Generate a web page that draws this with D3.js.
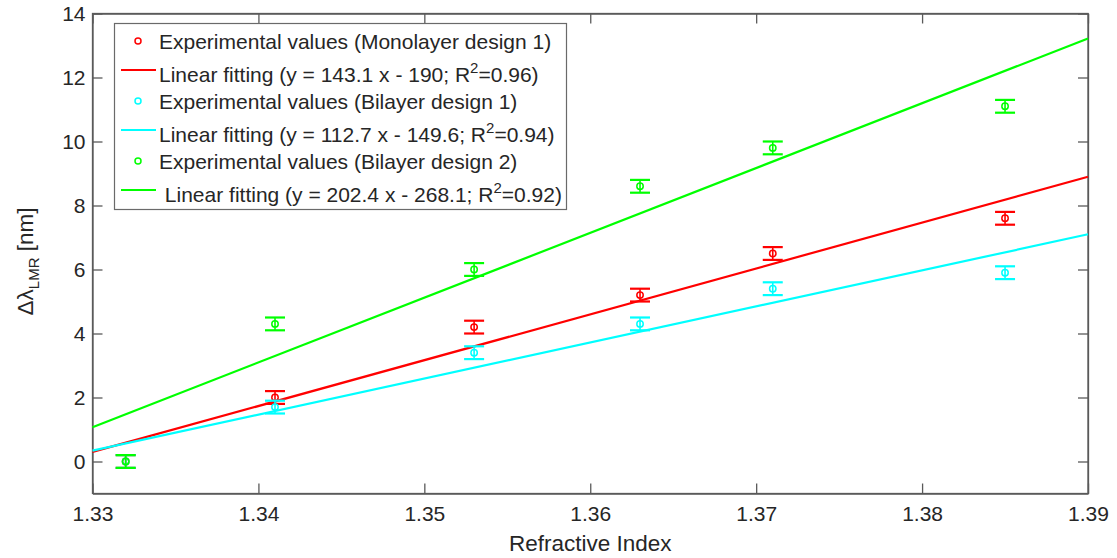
<!DOCTYPE html>
<html>
<head>
<meta charset="utf-8">
<script src="https://cdn.jsdelivr.net/npm/d3@7"></script>
<style>
  html, body { margin: 0; padding: 0; background: #fff; }
  svg { display: block; font-family: "Liberation Sans", Arial, sans-serif; }
  text { white-space: pre; }
</style>
</head>
<body>
<svg id="chart" width="1117" height="558"></svg>
<script>
// ---- Data ----
const refractiveIndex = [1.332, 1.341, 1.353, 1.363, 1.371, 1.385];
const monolayer1 = [0, 2.0, 4.2, 5.2, 6.5, 7.6];
const bilayer1 = [0, 1.7, 3.4, 4.3, 5.4, 5.9];
const bilayer2 = [0, 4.3, 6.0, 8.6, 9.8, 11.1];
const errMono1 = [0.2, 0.2, 0.2, 0.2, 0.2, 0.2];
const errBi1 = [0.2, 0.2, 0.2, 0.2, 0.2, 0.2];
const errBi2 = [0.2, 0.2, 0.2, 0.2, 0.2, 0.2];
const fitX = [1.33, 1.39];
const fitMono1 = [0.30, 8.90];
const fitBi1 = [0.34, 7.10];
const fitBi2 = [1.07, 13.22];
const xTicks = [1.33, 1.34, 1.35, 1.36, 1.37, 1.38, 1.39];
const yTicks = [0, 2, 4, 6, 8, 10, 12, 14];
const seriesNames = ["Monolayer design 1", "Bilayer design 1", "Bilayer design 2"];
const fitLabels = [
  ["Linear fitting (y = 143.1 x - 190; R", "2", "=0.96)"],
  ["Linear fitting (y = 112.7 x - 149.6; R", "2", "=0.94)"],
  ["\u00A0Linear fitting (y = 202.4 x - 268.1; R", "2", "=0.92)"]
];
const colors = ["#ff0000", "#00ffff", "#00ff00"];

const series = [
  { values: monolayer1, err: errMono1, fit: fitMono1 },
  { values: bilayer1, err: errBi1, fit: fitBi1 },
  { values: bilayer2, err: errBi2, fit: fitBi2 }
];

// ---- Layout ----
const L = 92.5, R = 1088, T = 13.5, B = 493.5;
const svg = d3.select("#chart");
const x = d3.scaleLinear().domain([1.33, 1.39]).range([L, R]);
const y = d3.scaleLinear().domain([-1, 14]).range([B, T]);
const axisColor = "#5a5a5a";
const textColor = "#262626";
const fs = 21;

// Axes
const gx = svg.append("g").attr("transform", `translate(0,${B})`)
  .call(d3.axisBottom(x).tickValues(xTicks).tickFormat(d3.format(".2f")).tickSizeInner(-10).tickSizeOuter(0).tickPadding(13));
const gxt = svg.append("g").attr("transform", `translate(0,${T})`)
  .call(d3.axisTop(x).tickValues(xTicks).tickFormat("").tickSizeInner(-10).tickSizeOuter(0));
const gy = svg.append("g").attr("transform", `translate(${L},0)`)
  .call(d3.axisLeft(y).tickValues(yTicks).tickFormat(d3.format("d")).tickSizeInner(-10).tickSizeOuter(0).tickPadding(7));
const gyr = svg.append("g").attr("transform", `translate(${R},0)`)
  .call(d3.axisRight(y).tickValues(yTicks).tickFormat("").tickSizeInner(-10).tickSizeOuter(0));

[gx, gxt, gy, gyr].forEach(g => {
  g.select(".domain").attr("stroke", axisColor).attr("stroke-width", 1.3);
  g.selectAll(".tick line").attr("stroke", axisColor).attr("stroke-width", 1.3);
  g.selectAll("text").attr("fill", textColor).attr("font-size", fs)
    .attr("font-family", "'Liberation Sans', Arial, sans-serif");
});
svg.append("rect").attr("x", L).attr("y", T).attr("width", R - L).attr("height", B - T)
  .attr("fill", "none").attr("stroke", axisColor).attr("stroke-width", 1.3);

// Axis labels
svg.append("text").attr("x", (L + R) / 2).attr("y", 551).attr("text-anchor", "middle")
  .attr("font-size", 22.5).attr("fill", textColor).text("Refractive Index");

const yl = svg.append("text").attr("transform", `translate(33,${(T + B) / 2 + 8}) rotate(-90)`)
  .attr("text-anchor", "middle").attr("font-size", 22.5).attr("fill", textColor);
yl.append("tspan").text("Δλ");
yl.append("tspan").attr("font-size", 15).attr("dy", 6).text("LMR");
yl.append("tspan").attr("dy", -6).text(" [nm]");

// Plot area
const plot = svg.append("g");
const capHalf = 10;
series.forEach((s, i) => {
  const g = plot.append("g");
  const pts = refractiveIndex.map((xv, j) => ({ x: xv, y: s.values[j], e: s.err[j] }));
  g.selectAll("line.v").data(pts).join("line")
    .attr("x1", d => x(d.x)).attr("x2", d => x(d.x))
    .attr("y1", d => y(d.y - d.e)).attr("y2", d => y(d.y + d.e))
    .attr("stroke", colors[i]).attr("stroke-width", 1.6);
  g.selectAll("line.top").data(pts).join("line")
    .attr("x1", d => x(d.x) - capHalf).attr("x2", d => x(d.x) + capHalf)
    .attr("y1", d => y(d.y + d.e)).attr("y2", d => y(d.y + d.e))
    .attr("stroke", colors[i]).attr("stroke-width", 2.2);
  g.selectAll("line.bot").data(pts).join("line")
    .attr("x1", d => x(d.x) - capHalf).attr("x2", d => x(d.x) + capHalf)
    .attr("y1", d => y(d.y - d.e)).attr("y2", d => y(d.y - d.e))
    .attr("stroke", colors[i]).attr("stroke-width", 2.2);
  g.selectAll("circle").data(pts).join("circle")
    .attr("cx", d => x(d.x)).attr("cy", d => y(d.y)).attr("r", 3.2)
    .attr("fill", "none").attr("stroke", colors[i]).attr("stroke-width", 1.5);
  const line = d3.line().x(d => x(d[0])).y(d => y(d[1]));
  g.append("path").datum(fitX.map((xv, j) => [xv, s.fit[j]]))
    .attr("d", line).attr("fill", "none").attr("stroke", colors[i]).attr("stroke-width", 2.2);
});

// Legend
const lg = svg.append("g");
lg.append("rect").attr("x", 114.5).attr("y", 23.5).attr("width", 452).attr("height", 186)
  .attr("fill", "#fff").attr("stroke", "#6a6a6a").attr("stroke-width", 1.2);
const rowY = [42, 75, 102, 135, 162, 195];
series.forEach((s, i) => {
  const y1 = rowY[i * 2], y2 = rowY[i * 2 + 1];
  lg.append("circle").attr("cx", 138).attr("cy", y1 - 1).attr("r", 3)
    .attr("fill", "none").attr("stroke", colors[i]).attr("stroke-width", 1.5);
  lg.append("text").attr("x", 159).attr("y", y1).attr("dy", "0.35em")
    .attr("font-size", fs).attr("fill", textColor)
    .text(`Experimental values (${seriesNames[i]})`);
  lg.append("line").attr("x1", 121).attr("x2", 156).attr("y1", y2 - 5).attr("y2", y2 - 5)
    .attr("stroke", colors[i]).attr("stroke-width", 2.2);
  const t = lg.append("text").attr("x", 159).attr("y", y2).attr("dy", "0.35em")
    .attr("font-size", fs).attr("fill", textColor);
  t.append("tspan").text(fitLabels[i][0]);
  t.append("tspan").attr("font-size", 15).attr("dy", -9).text(fitLabels[i][1]);
  t.append("tspan").attr("dy", 9).text(fitLabels[i][2]);
});
</script>
</body>
</html>
